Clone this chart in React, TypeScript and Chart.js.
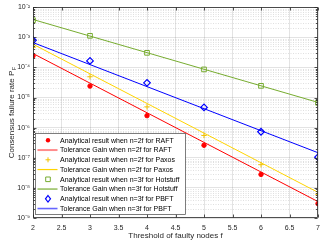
import React, { useEffect, useRef } from "react";
import { Chart, registerables } from "chart.js";

Chart.register(...registerables);

// ---------- data ----------
const faultThresholds = [2, 3, 4, 5, 6, 7];
const fitRange = [2, 7];

const raftAnalytical = [2.4e-4, 2.4e-5, 2.5e-6, 2.6e-7, 2.8e-8, 3.0e-9];
const raftGain = [2.9e-4, 3.5e-9];
const paxosAnalytical = [4.6e-4, 4.9e-5, 4.9e-6, 5.5e-7, 5.9e-8, 6.1e-9];
const paxosGain = [5.9e-4, 7.1e-9];
const hotstuffAnalytical = [3.7e-3, 1.12e-3, 3.05e-4, 8.6e-5, 2.45e-5, 6.7e-6];
const hotstuffGain = [3.9e-3, 6.9e-6];
const pbftAnalytical = [8.0e-4, 1.65e-4, 3.08e-5, 4.7e-6, 7.3e-7, 1.05e-7];
const pbftGain = [6.7e-4, 1.47e-7];

const seriesLabels = [
  "Analytical result when n=2f for RAFT",
  "Tolerance Gain when n=2f for RAFT",
  "Analytical result when n=2f for Paxos",
  "Tolerance Gain when n=2f for Paxos",
  "Analytical result when n=3f for Hotstuff",
  "Tolerance Gain when n=3f for Hotstuff",
  "Analytical result when n=3f for PBFT",
  "Tolerance Gain when n=3f for PBFT",
];

const yDecadeValues = [1e-9, 1e-8, 1e-7, 1e-6, 1e-5, 1e-4, 1e-3, 1e-2];
const yTickLabels = ["10⁻⁹", "10⁻⁸", "10⁻⁷", "10⁻⁶", "10⁻⁵", "10⁻⁴", "10⁻³", "10⁻²"];
const minorMultipliers = [2, 3, 4, 5, 6, 7, 8, 9];

const xTickValues = [2, 2.5, 3, 3.5, 4, 4.5, 5, 5.5, 6, 6.5, 7];
const xTickLabels = ["2", "2.5", "3", "3.5", "4", "4.5", "5", "5.5", "6", "6.5", "7"];

const xTitle = "Threshold of faulty nodes f";
const yTitleMain = "Consensus failure rate P";
const yTitleSub = "F";

// ---------- style ----------
const FONT = "'Liberation Sans', Arial, Helvetica, sans-serif";
const TEXT = "#262626";
const RED = "#FF0000";
const YELLOW_LINE = "#FFD400";
const YELLOW_MARK = "#F2C200";
const GREEN = "#77AC30";
const BLUE = "#0000FF";

const isDecade = (v: number) =>
  yDecadeValues.some((d) => Math.abs(Math.log10(d) - Math.log10(v)) < 1e-6);

const pts = (xs: number[], ys: number[]) => ys.map((y, i) => ({ x: xs[i], y }));

const legendStyles = [
  { kind: "circle", color: RED },
  { kind: "line", color: "rgba(255,0,0,0.45)", width: 2 },
  { kind: "cross", color: YELLOW_MARK },
  { kind: "line", color: YELLOW_LINE, width: 1.2 },
  { kind: "rect", color: GREEN },
  { kind: "line", color: GREEN, width: 1.2 },
  { kind: "diamond", color: BLUE },
  { kind: "line", color: "rgba(0,0,255,0.6)", width: 1.6 },
];

function drawMarker(ctx: CanvasRenderingContext2D, kind: string, color: string, x: number, y: number) {
  ctx.save();
  ctx.strokeStyle = color;
  ctx.fillStyle = color;
  ctx.lineWidth = 1;
  ctx.beginPath();
  if (kind === "circle") {
    ctx.arc(x, y, 2.2, 0, Math.PI * 2);
    ctx.fill();
  } else if (kind === "cross") {
    ctx.moveTo(x - 2.5, y);
    ctx.lineTo(x + 2.5, y);
    ctx.moveTo(x, y - 2.5);
    ctx.lineTo(x, y + 2.5);
    ctx.stroke();
  } else if (kind === "rect") {
    ctx.rect(x - 2.3, y - 2.3, 4.6, 4.6);
    ctx.stroke();
  } else if (kind === "diamond") {
    ctx.lineWidth = 1.2;
    ctx.moveTo(x, y - 3.3);
    ctx.lineTo(x + 2.5, y);
    ctx.lineTo(x, y + 3.3);
    ctx.lineTo(x - 2.5, y);
    ctx.closePath();
    ctx.stroke();
  }
  ctx.restore();
}

const matlabPlugin = {
  id: "matlabLook",
  beforeDatasetsDraw(chart: any) {
    const { ctx, chartArea: a, scales } = chart;
    const y = scales.y;
    ctx.save();
    ctx.strokeStyle = "rgba(38,38,38,0.14)";
    ctx.lineWidth = 1;
    ctx.setLineDash([1, 1.5]);
    y.ticks.forEach((t: any) => {
      if (!isDecade(t.value)) {
        const py = Math.round(y.getPixelForValue(t.value)) + 0.5;
        ctx.beginPath();
        ctx.moveTo(a.left, py);
        ctx.lineTo(a.right, py);
        ctx.stroke();
      }
    });
    ctx.restore();
  },
  afterDatasetsDraw(chart: any) {
    const { ctx, chartArea: a, scales } = chart;
    const x = scales.x;
    const y = scales.y;
    ctx.save();
    // axes box
    ctx.strokeStyle = TEXT;
    ctx.lineWidth = 0.8;
    ctx.setLineDash([]);
    const L = Math.round(a.left) + 0.5;
    const R = Math.round(a.right) - 0.5;
    const T = Math.round(a.top) + 0.5;
    const B = Math.round(a.bottom) - 0.5;
    ctx.strokeRect(L, T, R - L, B - T);
    // inward tick marks
    ctx.beginPath();
    y.ticks.forEach((t: any) => {
      const py = Math.round(y.getPixelForValue(t.value)) + 0.5;
      const len = isDecade(t.value) ? 3 : 1.6;
      ctx.moveTo(L, py);
      ctx.lineTo(L + len, py);
      ctx.moveTo(R, py);
      ctx.lineTo(R - len, py);
    });
    x.ticks.forEach((t: any) => {
      const px = Math.round(x.getPixelForValue(t.value)) + 0.5;
      ctx.moveTo(px, B);
      ctx.lineTo(px, B - 3);
      ctx.moveTo(px, T);
      ctx.lineTo(px, T + 3);
    });
    ctx.stroke();

    // legend
    const bx = Math.round(a.left) + 2.5;
    const bw = 150;
    const bh = 81;
    const by = Math.round(a.bottom) - 3.5 - bh;
    ctx.fillStyle = "#FFFFFF";
    ctx.fillRect(bx, by, bw, bh);
    ctx.strokeStyle = "rgba(38,38,38,0.85)";
    ctx.lineWidth = 0.7;
    ctx.strokeRect(bx, by, bw, bh);
    const rowH = 9.75;
    const firstRow = by + 6.8;
    ctx.font = `7px ${FONT}`;
    ctx.textBaseline = "middle";
    ctx.textAlign = "left";
    seriesLabels.forEach((label, i) => {
      const ry = firstRow + i * rowH;
      const st: any = legendStyles[i];
      if (st.kind === "line") {
        ctx.save();
        ctx.strokeStyle = st.color;
        ctx.lineWidth = st.width;
        ctx.beginPath();
        ctx.moveTo(bx + 2, ry);
        ctx.lineTo(bx + 22, ry);
        ctx.stroke();
        ctx.restore();
      } else {
        drawMarker(ctx, st.kind, st.color, bx + 12.5, ry);
      }
      ctx.fillStyle = "#000000";
      ctx.fillText(label, bx + 24.5, ry + 0.5);
    });
    ctx.restore();
  },
  afterDraw(chart: any) {
    const { ctx, chartArea: a } = chart;
    ctx.save();
    ctx.fillStyle = TEXT;
    // x title
    ctx.font = `8px ${FONT}`;
    ctx.textAlign = "center";
    ctx.textBaseline = "middle";
    ctx.fillText(xTitle, (a.left + a.right) / 2, 236);
    // y title with subscript
    const cy = (a.top + a.bottom) / 2;
    ctx.translate(10.5, cy);
    ctx.rotate(-Math.PI / 2);
    ctx.font = `8px ${FONT}`;
    const wMain = ctx.measureText(yTitleMain).width;
    ctx.font = `5.5px ${FONT}`;
    const wSub = ctx.measureText(yTitleSub).width;
    const total = wMain + wSub + 0.5;
    ctx.textAlign = "left";
    ctx.textBaseline = "alphabetic";
    ctx.font = `8px ${FONT}`;
    ctx.fillText(yTitleMain, -total / 2, 3);
    ctx.font = `5.5px ${FONT}`;
    ctx.fillText(yTitleSub, -total / 2 + wMain + 0.5, 5);
    ctx.restore();
  },
};

export default function App() {
  const ref = useRef<HTMLCanvasElement | null>(null);

  useEffect(() => {
    if (!ref.current) return;
    const chart = new Chart(ref.current, {
      type: "line",
      data: {
        datasets: [
          {
            label: seriesLabels[0],
            data: pts(faultThresholds, raftAnalytical),
            showLine: false,
            pointStyle: "circle",
            pointRadius: 2.2,
            pointBackgroundColor: RED,
            pointBorderColor: RED,
            pointBorderWidth: 1,
          },
          {
            label: seriesLabels[1],
            data: pts(fitRange, raftGain),
            borderColor: RED,
            borderWidth: 1,
            pointRadius: 0,
          },
          {
            label: seriesLabels[2],
            data: pts(faultThresholds, paxosAnalytical),
            showLine: false,
            pointStyle: "cross",
            pointRadius: 2.7,
            pointBorderColor: YELLOW_MARK,
            pointBorderWidth: 1,
          },
          {
            label: seriesLabels[3],
            data: pts(fitRange, paxosGain),
            borderColor: YELLOW_LINE,
            borderWidth: 1,
            pointRadius: 0,
          },
          {
            label: seriesLabels[4],
            data: pts(faultThresholds, hotstuffAnalytical),
            showLine: false,
            pointStyle: "rect",
            pointRadius: 3.3,
            pointBackgroundColor: "rgba(0,0,0,0)",
            pointBorderColor: GREEN,
            pointBorderWidth: 1,
          },
          {
            label: seriesLabels[5],
            data: pts(fitRange, hotstuffGain),
            borderColor: GREEN,
            borderWidth: 1,
            pointRadius: 0,
          },
          {
            label: seriesLabels[6],
            data: pts(faultThresholds, pbftAnalytical),
            showLine: false,
            pointStyle: "rectRot",
            pointRadius: 3.3,
            pointBackgroundColor: "rgba(0,0,0,0)",
            pointBorderColor: BLUE,
            pointBorderWidth: 1.2,
          },
          {
            label: seriesLabels[7],
            data: pts(fitRange, pbftGain),
            borderColor: BLUE,
            borderWidth: 1,
            pointRadius: 0,
          },
        ],
      },
      options: {
        animation: false,
        responsive: false,
        maintainAspectRatio: false,
        devicePixelRatio: 1,
        layout: { padding: { top: 7, right: 9, left: 0, bottom: 0 } },
        plugins: {
          legend: { display: false },
          tooltip: { enabled: false },
          title: { display: false },
        },
        scales: {
          x: {
            type: "linear",
            min: xTickValues[0],
            max: xTickValues[xTickValues.length - 1],
            afterBuildTicks: (scale: any) => {
              scale.ticks = xTickValues.map((v) => ({ value: v }));
            },
            ticks: {
              autoSkip: false,
              maxRotation: 0,
              padding: 6,
              color: TEXT,
              font: { family: FONT, size: 7 },
              callback: (value: any) => {
                const i = xTickValues.findIndex((v) => Math.abs(v - Number(value)) < 1e-9);
                return i >= 0 ? xTickLabels[i] : "";
              },
            },
            grid: { color: "rgba(38,38,38,0.13)", drawTicks: false },
            border: { display: false },
            afterFit: (s: any) => {
              s.height = 27;
            },
          },
          y: {
            type: "logarithmic",
            min: yDecadeValues[0],
            max: yDecadeValues[yDecadeValues.length - 1],
            afterBuildTicks: (scale: any) => {
              const ticks: any[] = [];
              yDecadeValues.forEach((d, i) => {
                ticks.push({ value: d, major: true });
                if (i < yDecadeValues.length - 1) {
                  minorMultipliers.forEach((m) => ticks.push({ value: d * m, major: false }));
                }
              });
              scale.ticks = ticks;
            },
            ticks: {
              autoSkip: false,
              padding: 3,
              color: TEXT,
              font: { family: FONT, size: 7 },
              callback: (value: any) => {
                const v = Number(value);
                const i = yDecadeValues.findIndex(
                  (d) => Math.abs(Math.log10(d) - Math.log10(v)) < 1e-6
                );
                return i >= 0 ? yTickLabels[i] : "";
              },
            },
            grid: {
              drawTicks: false,
              color: (c: any) =>
                c.tick && isDecade(c.tick.value) ? "rgba(38,38,38,0.13)" : "rgba(0,0,0,0)",
            },
            border: { display: false },
            afterFit: (s: any) => {
              s.width = 33;
            },
          },
        },
      },
      plugins: [matlabPlugin],
    } as any);
    return () => chart.destroy();
  }, []);

  return (
    <div style={{ position: "absolute", left: 0, top: 0, width: 327, height: 245, background: "#fff" }}>
      <canvas ref={ref} width={327} height={245} style={{ display: "block", width: 327, height: 245 }} />
    </div>
  );
}
